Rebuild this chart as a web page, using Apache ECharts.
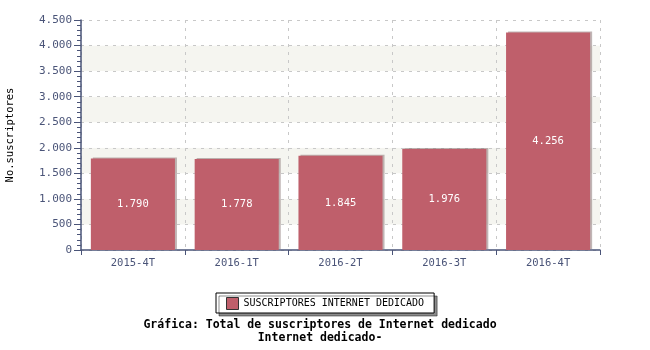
<!DOCTYPE html>
<html><head><meta charset="utf-8">
<script src="https://cdn.jsdelivr.net/npm/echarts@6/dist/echarts.min.js"></script>
<style>html,body{margin:0;padding:0;background:#fff}#c{width:650px;height:350px}</style>
</head><body><div id="c"></div>
<script>
const categories = ['2015-4T','2016-1T','2016-2T','2016-3T','2016-4T'];
const values = [1790, 1778, 1845, 1976, 4256];
const seriesName = 'SUSCRIPTORES INTERNET DEDICADO';
const yTicks = [0, 500, 1000, 1500, 2000, 2500, 3000, 3500, 4000, 4500];

const fmt = v => String(v).replace(/\B(?=(\d{3})+(?!\d))/g, '.');
const mono = 'DejaVu Sans Mono';
const axisCol = '#4a5478';

const chart = echarts.init(document.getElementById('c'), null, {renderer:'canvas'});
chart.setOption({
  animation: false,
  title: {
    text: 'Gráfica: Total de suscriptores de Internet dedicado\nInternet dedicado-',
    left: 315, top: 314, textAlign: 'center',
    textStyle: {fontFamily: mono, fontWeight: 'bold', fontSize: 11.5, color: '#000', lineHeight: 13}
  },
  legend: {
    left: 216, top: 293, width: 217,
    padding: [4, 10, 3, 10],
    backgroundColor: '#fff', borderColor: '#000', borderWidth: 1,
    shadowColor: 'rgba(0,0,0,0.45)', shadowOffsetX: 3, shadowOffsetY: 3, shadowBlur: 0,
    itemWidth: 12, itemHeight: 12, icon: 'rect',
    textStyle: {fontFamily: mono, fontSize: 10, color: '#000'},
    data: [{name: seriesName, itemStyle: {borderColor: '#333', borderWidth: 1}}]
  },
  grid: {left: 81, right: 50, top: 20, bottom: 100, outerBoundsMode: 'none', containLabel: false},
  xAxis: {
    type: 'category', data: categories,
    axisLine: {lineStyle: {color: axisCol, width: 1.5}},
    axisTick: {show: true, length: 5, lineStyle: {color: axisCol}},
    axisLabel: {fontFamily: mono, fontSize: 10.5, color: axisCol, margin: 8},
    splitLine: {show: true, lineStyle: {type: [3, 5], color: '#c8c8c8'}}
  },
  yAxis: {
    type: 'value', min: yTicks[0], max: yTicks[yTicks.length-1], interval: 500,
    name: 'No.suscriptores', nameLocation: 'middle', nameGap: 65, nameRotate: 90,
    nameTextStyle: {fontFamily: mono, fontSize: 10.5, color: '#000'},
    axisLine: {show: true, lineStyle: {color: axisCol, width: 1.5}},
    axisTick: {show: true, length: 7, lineStyle: {color: axisCol}},
    minorTick: {show: true, splitNumber: 5, length: 4, lineStyle: {color: axisCol}},
    axisLabel: {fontFamily: mono, fontSize: 11, color: axisCol, margin: 9, formatter: fmt},
    splitLine: {show: true, lineStyle: {type: [3, 5], color: '#c8c8c8'}},
    splitArea: {show: true, areaStyle: {color: ['#ffffff', '#f5f5f0']}}
  },
  series: [{
    name: seriesName, type: 'bar', data: values,
    barCategoryGap: '19%',
    itemStyle: {color: '#bf5f6b', shadowColor: 'rgba(140,120,120,0.55)', shadowOffsetX: 2, shadowOffsetY: -1, shadowBlur: 0},
    label: {show: true, position: 'inside', color: '#fff', fontFamily: mono, fontSize: 10.5,
      formatter: p => fmt(p.value)}
  }]
});
</script></body></html>
